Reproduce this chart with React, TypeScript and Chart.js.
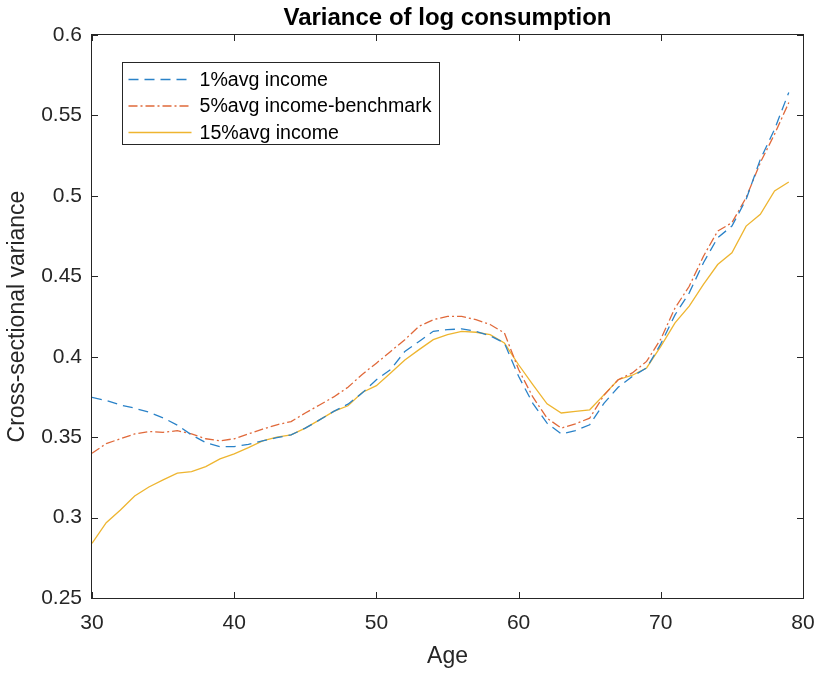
import React, { useEffect, useRef } from "react";
import { Chart, registerables } from "chart.js";

Chart.register(...registerables);

const ages = [
  30, 31, 32, 33, 34, 35, 36, 37, 38, 39,
  40, 41, 42, 43, 44, 45, 46, 47, 48, 49,
  50, 51, 52, 53, 54, 55, 56, 57, 58, 59,
  60, 61, 62, 63, 64, 65, 66, 67, 68, 69,
  70, 71, 72, 73, 74, 75, 76, 77, 78, 79,
];

const income1 = [
  0.3747, 0.3728, 0.37, 0.368, 0.3655, 0.362, 0.3575, 0.3514, 0.3466, 0.3441,
  0.3441, 0.3455, 0.3477, 0.3497, 0.3514, 0.3556, 0.3607, 0.366, 0.3705, 0.3774,
  0.3857, 0.392, 0.4033, 0.4095, 0.4158, 0.4168, 0.4173, 0.4158, 0.413, 0.4085,
  0.3878, 0.371, 0.3587, 0.352, 0.3541, 0.3577, 0.371, 0.381, 0.3878, 0.393,
  0.408, 0.426, 0.4397, 0.4584, 0.474, 0.4812, 0.4978, 0.5227, 0.5414, 0.5643,
];

const income5 = [
  0.34, 0.346, 0.349, 0.352, 0.3535, 0.353, 0.354, 0.352, 0.349, 0.3477,
  0.349, 0.352, 0.355, 0.3577, 0.3597, 0.365, 0.37, 0.375, 0.381, 0.389,
  0.396, 0.4033, 0.4106, 0.4189, 0.423, 0.4251, 0.4251, 0.423, 0.42, 0.4148,
  0.392, 0.375, 0.3618, 0.3556, 0.3583, 0.3618, 0.376, 0.3857, 0.3899, 0.3971,
  0.411, 0.4303, 0.4438, 0.4625, 0.4781, 0.4833, 0.4989, 0.5207, 0.5383, 0.558,
];

const income15 = [
  0.284, 0.2968, 0.3047, 0.3134, 0.319, 0.3234, 0.3276, 0.3286, 0.3317, 0.3365,
  0.3396, 0.3435, 0.3477, 0.35, 0.3514, 0.3556, 0.3607, 0.366, 0.3695, 0.3778,
  0.382, 0.3899, 0.398, 0.4044, 0.4106, 0.4137, 0.4158, 0.4152, 0.4137, 0.4085,
  0.395, 0.3826, 0.3707, 0.365, 0.366, 0.367, 0.3763, 0.3857, 0.3885, 0.393,
  0.4064, 0.421, 0.4314, 0.4449, 0.4573, 0.4646, 0.4812, 0.4885, 0.503, 0.5086,
];

const seriesLabels = ["1%avg income", "5%avg income-benchmark", "15%avg income"];
const titleText = "Variance of log consumption";
const xTitle = "Age";
const yTitle = "Cross-sectional variance";

const FONT = "'Liberation Sans', Arial, Helvetica, sans-serif";
const AXIS = "#262626";

const framePlugin = {
  id: "frame",
  afterDatasetsDraw(chart: any) {
    const { ctx, chartArea: a, scales } = chart;
    ctx.save();
    ctx.strokeStyle = AXIS;
    ctx.lineWidth = 1;
    const L = 6;
    ctx.beginPath();
    scales.x.ticks.forEach((t: any) => {
      const px = Math.round(scales.x.getPixelForValue(t.value)) + 0.5;
      ctx.moveTo(px, a.bottom);
      ctx.lineTo(px, a.bottom - L);
      ctx.moveTo(px, a.top);
      ctx.lineTo(px, a.top + L);
    });
    scales.y.ticks.forEach((t: any) => {
      const py = Math.round(scales.y.getPixelForValue(t.value)) + 0.5;
      ctx.moveTo(a.left, py);
      ctx.lineTo(a.left + L, py);
      ctx.moveTo(a.right, py);
      ctx.lineTo(a.right - L, py);
    });
    ctx.stroke();
    ctx.strokeRect(Math.round(a.left) - 0.5, Math.round(a.top) - 0.5, Math.round(a.right - a.left) + 1, Math.round(a.bottom - a.top) + 1);

    // legend
    const bx = Math.round(a.left) + 30.5;
    const by = Math.round(a.top) + 27.5;
    const bw = 317;
    const bh = 82;
    ctx.fillStyle = "#ffffff";
    ctx.fillRect(bx, by, bw, bh);
    ctx.strokeStyle = AXIS;
    ctx.strokeRect(bx, by, bw, bh);
    chart.data.datasets.forEach((ds: any, i: number) => {
      const y = by + 17 + i * 26.5;
      ctx.save();
      ctx.strokeStyle = ds.borderColor;
      ctx.lineWidth = ds.borderWidth;
      ctx.setLineDash(ds.borderDash || []);
      ctx.beginPath();
      ctx.moveTo(bx + 6, y);
      ctx.lineTo(bx + 69, y);
      ctx.stroke();
      ctx.restore();
      ctx.fillStyle = "#000000";
      ctx.font = `19.6px ${FONT}`;
      ctx.textBaseline = "middle";
      ctx.textAlign = "left";
      ctx.fillText(ds.label, bx + 77, y + 1);
    });
    ctx.restore();
  },
};

export default function App() {
  const ref = useRef<HTMLCanvasElement | null>(null);
  useEffect(() => {
    if (!ref.current) return;
    const chart = new Chart(ref.current, {
      type: "line",
      data: {
        labels: ages,
        datasets: [
          {
            label: seriesLabels[0],
            data: ages.map((a, i) => ({ x: a, y: income1[i] })),
            borderColor: "#2a82c8",
            borderWidth: 1.3,
            borderDash: [10, 6],
            pointRadius: 0,
            tension: 0,
          },
          {
            label: seriesLabels[1],
            data: ages.map((a, i) => ({ x: a, y: income5[i] })),
            borderColor: "#e0693a",
            borderWidth: 1.3,
            borderDash: [9, 3, 2, 3],
            pointRadius: 0,
            tension: 0,
          },
          {
            label: seriesLabels[2],
            data: ages.map((a, i) => ({ x: a, y: income15[i] })),
            borderColor: "#eeb530",
            borderWidth: 1.3,
            pointRadius: 0,
            tension: 0,
          },
        ],
      },
      options: {
        animation: false,
        responsive: false,
        devicePixelRatio: 1,
        layout: { padding: { left: 0, right: 18, top: 0, bottom: 0 } },
        plugins: {
          legend: { display: false },
          tooltip: { enabled: false },
          title: {
            display: true,
            fullSize: false,
            text: titleText,
            color: "#000000",
            font: { family: FONT, size: 24, weight: "bold" },
            padding: { top: 3.6, bottom: 2.6 },
          },
        },
        scales: {
          x: {
            type: "linear",
            min: 30,
            max: 80,
            grid: { display: false, drawTicks: false },
            border: { display: false },
            ticks: {
              stepSize: 10,
              padding: 13,
              color: AXIS,
              font: { family: FONT, size: 21 },
              maxRotation: 0,
            },
            title: {
              display: true,
              text: xTitle,
              color: AXIS,
              font: { family: FONT, size: 23 },
              padding: { top: 0, bottom: 5 },
            },
            afterFit: (s: any) => {
              s.height = 77;
              s.paddingLeft = 0;
              s.paddingRight = 0;
            },
          },
          y: {
            min: 0.25,
            max: 0.6,
            grid: { display: false, drawTicks: false },
            border: { display: false },
            ticks: {
              stepSize: 0.05,
              padding: 10,
              color: AXIS,
              font: { family: FONT, size: 21 },
              callback: (v: any) => String(Number(Number(v).toFixed(2))),
            },
            title: {
              display: true,
              text: yTitle,
              color: AXIS,
              font: { family: FONT, size: 23 },
              padding: { top: 4, bottom: 0 },
            },
            afterFit: (s: any) => {
              s.width = 92;
              s.paddingTop = 0;
              s.paddingBottom = 0;
            },
          },
        },
      },
      plugins: [framePlugin],
    });
    return () => chart.destroy();
  }, []);
  return (
    <div style={{ position: "absolute", left: 0, top: 0, width: 821, height: 675, background: "#fff" }}>
      <canvas ref={ref} width={821} height={675} style={{ display: "block" }} />
    </div>
  );
}
